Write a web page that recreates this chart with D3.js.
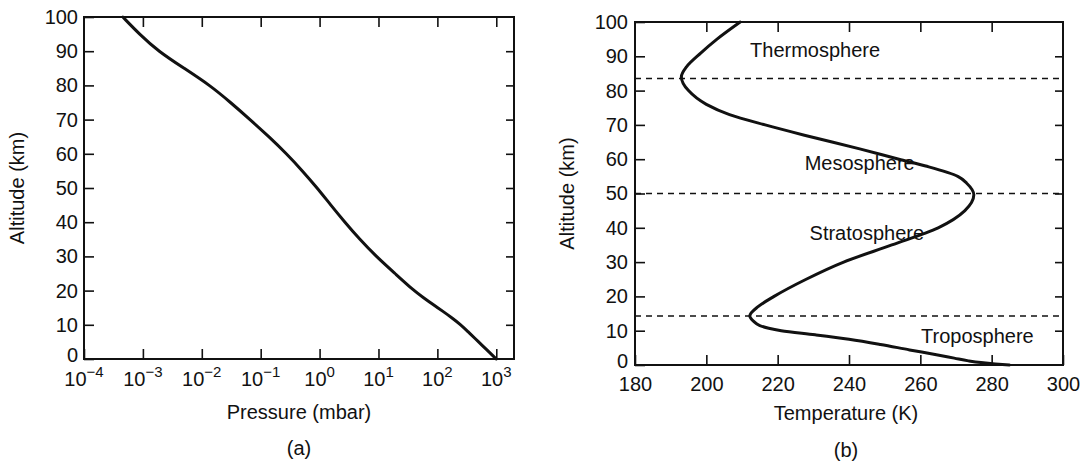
<!DOCTYPE html>
<html>
<head>
<meta charset="utf-8">
<script src="https://cdn.jsdelivr.net/npm/d3@7"></script>
<style>
  html, body { margin: 0; padding: 0; background: #fff; }
  svg { display: block; font-family: "Liberation Sans", Arial, Helvetica, sans-serif; }
  .frame { fill: none; stroke: #111; stroke-width: 2; }
  .tick line { stroke: #111; stroke-width: 1.6; }
  .tick text, .lbl { fill: #111; font-size: 20px; }
  .curve { fill: none; stroke: #111; stroke-width: 3; stroke-linejoin: round; stroke-linecap: round; }
  .layer-line { stroke: #111; stroke-width: 1.5; stroke-dasharray: 6 5; }
</style>
</head>
<body>
<svg id="chart" width="1081" height="463"></svg>
<script>
// (a) pressure profile: altitude (km) vs pressure (mbar)
const pressAlt = [0, 2, 4, 6, 8, 10, 12, 14, 16, 18, 20, 25, 30, 35, 40, 45, 50, 55, 60, 65, 70, 75, 80, 85, 90, 95, 100];
const pressMbar = [1000, 759, 575, 437, 331, 251, 178, 123, 83.2, 57.5, 39.8, 19.1, 9.12, 4.79, 2.69, 1.55, 0.912,
  0.513, 0.275, 0.138, 0.0661, 0.0309, 0.0138, 0.00501, 0.00182, 0.00087, 0.000457];

// (b) temperature profile: altitude (km) vs temperature (K)
const tempAlt = [0, 0.3, 0.7, 1.2, 2, 3, 4.4, 6, 7.5, 8.8, 10, 10.7, 11.5, 12.8, 14.3, 17, 20, 25, 30, 35, 40, 45, 49.6,
  53, 55, 58, 60, 63, 67, 70, 73, 76, 80, 84, 87, 91, 95, 100];
const tempK = [285, 281, 277, 273.5, 269.5, 264.5, 257, 248.8, 240, 230.5, 221, 217.5, 215, 213.2, 212.2, 214.5, 219, 228,
  238.5, 252, 265, 272.5, 275, 273, 270.5, 261.5, 254, 243, 227.5, 216.5, 206.5, 200, 195, 193, 194.5, 198.5, 203, 209.5];

// layer boundaries (km) and layer names
const boundaries = [14.3, 50, 83.5];
const layerNames = ["Troposphere", "Stratosphere", "Mesosphere", "Thermosphere"];
const layerAt = [[276, 8.5], [245, 38.5], [243, 59], [230.5, 91.8]]; // label anchors in (K, km)

// tick values
const altTicks = d3.range(0, 101, 10);
const pressTicks = [1e-4, 1e-3, 1e-2, 1e-1, 1e0, 1e1, 1e2, 1e3];
const pressExps = ["−4", "−3", "−2", "−1", "0", "1", "2", "3"];
const tempTicks = d3.range(180, 301, 20);

const svg = d3.select("#chart");
const TICK = 10;

// the corner "0" sits a touch high so it clears the x labels
const liftZero = g => g.selectAll(".tick text").filter(d => d === 0).attr("dy", "0.1em");

// ---- panel (a) ----
const xa = d3.scaleLog().domain([1e-4, 2000]).range([84, 514]);
const ya = d3.scaleLinear().domain([0, 100]).range([359, 17]);
const ga = svg.append("g");

ga.append("g").attr("transform", `translate(0,${ya(0)})`)
  .call(d3.axisBottom(xa).tickValues(pressTicks).tickFormat("").tickSize(-TICK).tickSizeOuter(0))
  .call(g => g.select(".domain").remove());
ga.append("g").attr("transform", `translate(0,${ya(100)})`)
  .call(d3.axisTop(xa).tickValues(pressTicks.slice(1)).tickFormat("").tickSize(-TICK).tickSizeOuter(0))
  .call(g => g.select(".domain").remove());
ga.append("g").attr("transform", `translate(${xa.range()[0]},0)`)
  .call(d3.axisLeft(ya).tickValues(altTicks).tickSize(-TICK).tickPadding(6).tickSizeOuter(0))
  .call(g => g.select(".domain").remove())
  .call(liftZero);
ga.append("g").attr("transform", `translate(${xa.range()[1]},0)`)
  .call(d3.axisRight(ya).tickValues(altTicks.slice(1, -1)).tickFormat("").tickSize(-8).tickSizeOuter(0))
  .call(g => g.select(".domain").remove());

// power-of-ten labels
const pl = ga.append("g").selectAll("text").data(pressTicks).join("text")
  .attr("class", "lbl")
  .attr("text-anchor", "middle")
  .attr("x", d => xa(d))
  .attr("y", ya(0) + 27);
pl.append("tspan").text("10");
pl.append("tspan").attr("dy", -9).style("font-size", "15px").text((d, i) => pressExps[i]);

ga.append("rect").attr("class", "frame")
  .attr("x", xa.range()[0]).attr("y", ya(100))
  .attr("width", xa.range()[1] - xa.range()[0]).attr("height", ya(0) - ya(100));

const pressData = pressAlt.map((a, i) => ({ alt: a, p: pressMbar[i] }));
ga.append("path").attr("class", "curve")
  .attr("d", d3.line().x(d => xa(d.p)).y(d => ya(d.alt)).curve(d3.curveBasis)(pressData));

ga.append("text").attr("class", "lbl").attr("text-anchor", "middle")
  .attr("transform", `translate(24,${(ya(0) + ya(100)) / 2}) rotate(-90)`).text("Altitude (km)");
ga.append("text").attr("class", "lbl").attr("text-anchor", "middle")
  .attr("x", (xa.range()[0] + xa.range()[1]) / 2).attr("y", 419).text("Pressure (mbar)");
ga.append("text").attr("class", "lbl").attr("text-anchor", "middle")
  .attr("x", (xa.range()[0] + xa.range()[1]) / 2).attr("y", 455).text("(a)");

// ---- panel (b) ----
const xb = d3.scaleLinear().domain([180, 300]).range([635, 1063]);
const yb = d3.scaleLinear().domain([0, 100]).range([365, 22]);
const gb = svg.append("g");

gb.append("g").attr("transform", `translate(0,${yb(0)})`)
  .call(d3.axisBottom(xb).tickValues(tempTicks).tickSize(-TICK).tickPadding(12).tickSizeOuter(0))
  .call(g => g.select(".domain").remove());
gb.append("g").attr("transform", `translate(0,${yb(100)})`)
  .call(d3.axisTop(xb).tickValues(tempTicks.slice(1, -1)).tickFormat("").tickSize(-TICK).tickSizeOuter(0))
  .call(g => g.select(".domain").remove());
gb.append("g").attr("transform", `translate(${xb.range()[0]},0)`)
  .call(d3.axisLeft(yb).tickValues(altTicks).tickSize(-TICK).tickPadding(7).tickSizeOuter(0))
  .call(g => g.select(".domain").remove())
  .call(liftZero);
gb.append("g").attr("transform", `translate(${xb.range()[1]},0)`)
  .call(d3.axisRight(yb).tickValues(altTicks.slice(1, -1)).tickFormat("").tickSize(-8).tickSizeOuter(0))
  .call(g => g.select(".domain").remove());

gb.append("rect").attr("class", "frame")
  .attr("x", xb.range()[0]).attr("y", yb(100))
  .attr("width", xb.range()[1] - xb.range()[0]).attr("height", yb(0) - yb(100));

gb.selectAll(".layer-line").data(boundaries).join("line")
  .attr("class", "layer-line")
  .attr("x1", xb.range()[0]).attr("x2", xb.range()[1])
  .attr("y1", d => yb(d)).attr("y2", d => yb(d));

const tempData = tempAlt.map((a, i) => ({ alt: a, t: tempK[i] }));
gb.append("path").attr("class", "curve")
  .attr("d", d3.line().x(d => xb(d.t)).y(d => yb(d.alt)).curve(d3.curveMonotoneY)(tempData));

gb.selectAll(".layer-name").data(layerNames).join("text")
  .attr("class", "lbl layer-name")
  .attr("text-anchor", "middle")
  .attr("dy", "0.35em")
  .attr("x", (d, i) => xb(layerAt[i][0]))
  .attr("y", (d, i) => yb(layerAt[i][1]))
  .text(d => d);

gb.append("text").attr("class", "lbl").attr("text-anchor", "middle")
  .attr("transform", `translate(574,${(yb(0) + yb(100)) / 2}) rotate(-90)`).text("Altitude (km)");
gb.append("text").attr("class", "lbl").attr("text-anchor", "middle")
  .attr("x", (xb.range()[0] + xb.range()[1]) / 2 - 3).attr("y", 420).text("Temperature (K)");
gb.append("text").attr("class", "lbl").attr("text-anchor", "middle")
  .attr("x", (xb.range()[0] + xb.range()[1]) / 2 - 3).attr("y", 457).text("(b)");
</script>
</body>
</html>
